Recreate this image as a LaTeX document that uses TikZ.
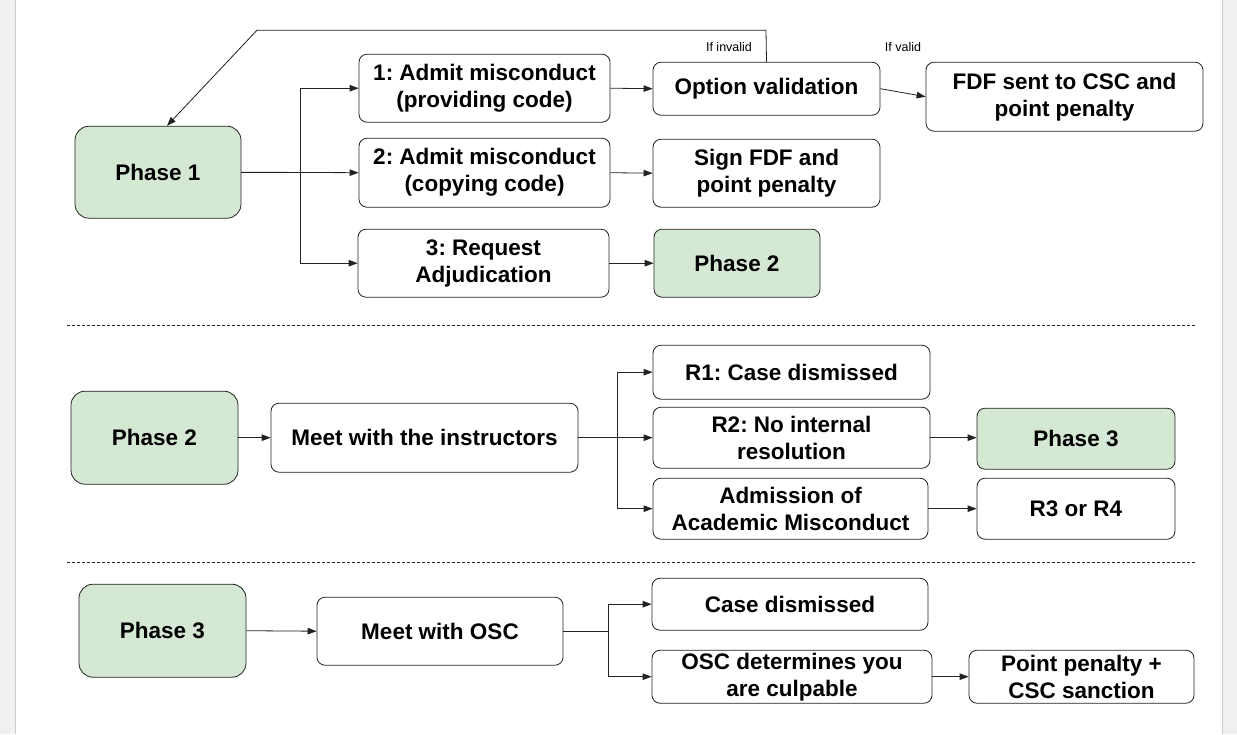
\documentclass[tikz,border=0pt]{standalone}
\usepackage{fontspec}
\setmainfont{Liberation Sans}
\usetikzlibrary{arrows.meta}
\definecolor{gfill}{HTML}{D5E8D4}
\definecolor{ln}{HTML}{222222}
\begin{document}
\frenchspacing
\begin{tikzpicture}[x=1pt,y=-1pt,
  bx/.style={draw=ln,rounded corners=8pt,fill=white,align=center,font=\fontsize{22.5}{27}\selectfont\bfseries,inner sep=0pt,line width=0.8pt},
  gb/.style={bx,fill=gfill,rounded corners=14pt},
  ar/.style={draw=ln,line width=0.8pt,-{Triangle[length=9pt,width=6.5pt]}},
  ln/.style={draw=ln,line width=0.8pt},
  lab/.style={font=\fontsize{12.5}{14}\selectfont,inner sep=0pt}]
\fill[gray!12] (0,0) rectangle (1237,734);
\fill[white] (15,0) rectangle (1222,734);
\draw[gray!40] (15,0) -- (15,734) (1222,0) -- (1222,734);
\useasboundingbox (0,0) rectangle (1237,734);
% boxes
\node[gb,minimum width=166pt,minimum height=92pt] (p1) at (158,172) {Phase 1};
\node[bx,minimum width=251pt,minimum height=68pt] (a1) at (484.5,88) {1: Admit misconduct\\(providing code)};
\node[bx,minimum width=227pt,minimum height=53pt] (ov) at (766.5,88.5) {Option validation};
\node[bx,minimum width=277pt,minimum height=69pt] (fdf) at (1064.5,96.5) {FDF sent to CSC and\\point penalty};
\node[bx,minimum width=251pt,minimum height=69pt] (a2) at (484.5,172.5) {2: Admit misconduct\\(copying code)};
\node[bx,minimum width=227pt,minimum height=68pt] (sf) at (766.5,173) {Sign FDF and\\point penalty};
\node[bx,minimum width=251pt,minimum height=68pt] (a3) at (483.5,263) {3: Request\\Adjudication};
\node[gb,rounded corners=8pt,minimum width=166pt,minimum height=68pt] (p2t) at (737,263) {Phase 2};
\draw[ln,dashed,line width=0.7pt,dash pattern=on 3pt off 2pt] (67,325) -- (1195,325);
\node[gb,minimum width=167pt,minimum height=93pt] (p2) at (154.5,437.5) {Phase 2};
\node[bx,minimum width=307pt,minimum height=69pt] (mi) at (424.5,437.5) {Meet with the instructors};
\node[bx,minimum width=277pt,minimum height=54pt] (r1) at (791.5,372) {R1: Case dismissed};
\node[bx,minimum width=277pt,minimum height=61pt] (r2) at (791.5,437.5) {R2: No internal\\resolution};
\node[bx,minimum width=275pt,minimum height=61pt] (ad) at (790.5,508.5) {Admission of\\Academic Misconduct};
\node[gb,rounded corners=8pt,minimum width=198pt,minimum height=61pt] (p3t) at (1076,438.5) {Phase 3};
\node[bx,minimum width=198pt,minimum height=61pt] (r34) at (1076,508.5) {R3 or R4};
\draw[ln,dashed,line width=0.7pt,dash pattern=on 3pt off 2pt] (67,562) -- (1195,562);
\node[gb,minimum width=167pt,minimum height=93pt] (p3) at (162.5,630.5) {Phase 3};
\node[bx,minimum width=246pt,minimum height=68pt] (mo) at (440,631) {Meet with OSC};
\node[bx,minimum width=276pt,minimum height=52pt] (cd) at (790,604) {Case dismissed};
\node[bx,minimum width=280pt,minimum height=53pt] (od) at (792,676.5) {OSC determines you\\are culpable};
\node[bx,minimum width=225pt,minimum height=53pt] (pp) at (1081.5,676.5) {Point penalty +\\CSC sanction};
% connectors
\coordinate (j1) at (300,172);
\draw[ln] (p1.east) -- (j1);
\draw[ar] (j1) |- (a1.west);
\draw[ar] (p1.east) -- (a2.west);
\draw[ar] (j1) |- (a3.west);
\draw[ar] (a1.east) -- (ov.west);
\draw[ar] (a2.east) -- (sf.west);
\draw[ar] (a3.east) -- (p2t.west);
\coordinate (c1) at (766,30); \coordinate (c2) at (257,30);
\draw[ar] (ov.north) -- (c1) -- (c2) -- ([xshift=9pt]p1.north);
\node[lab] (li) at (729,47) {If invalid};
\node[lab] (lv) at (903,47) {If valid};
\draw[ar] (ov.east) -- (fdf.west);
\draw[ar] (p2.east) -- (mi.west);
\coordinate (j2) at (617,437.5);
\draw[ln] (mi.east) -- (j2);
\draw[ar] (j2) |- (r1.west);
\draw[ar] (j2) -- (r2.west);
\draw[ar] (j2) |- (ad.west);
\draw[ar] (r2.east) -- (p3t.west |- r2.east);
\draw[ar] (ad.east) -- (r34.west);
\draw[ar] (p3.east) -- (mo.west);
\coordinate (j3) at (608,631);
\draw[ln] (mo.east) -- (j3);
\draw[ar] (j3) |- (cd.west);
\draw[ar] (j3) |- (od.west);
\draw[ar] (od.east) -- (pp.west);
\end{tikzpicture}
\end{document}
